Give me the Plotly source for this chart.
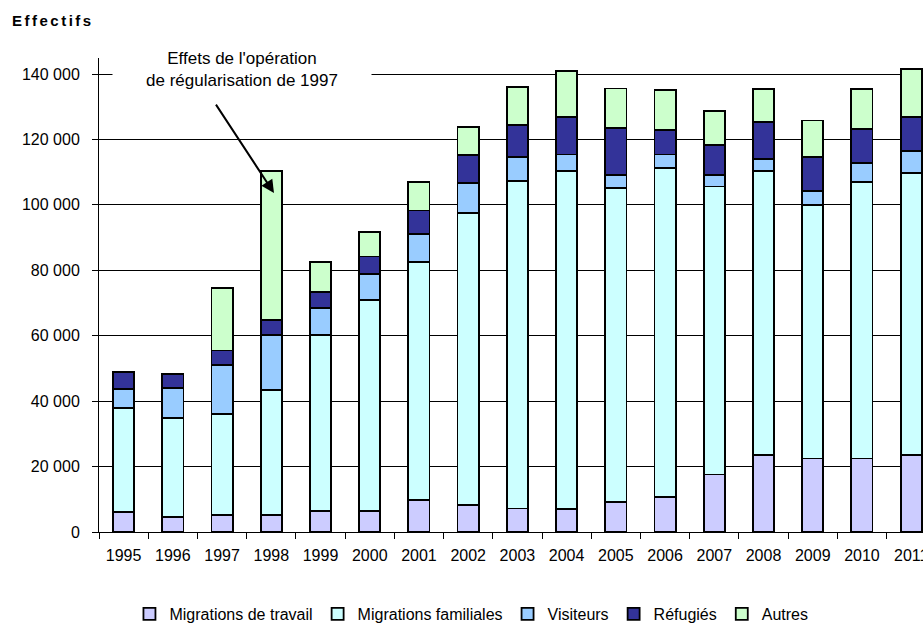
import plotly.graph_objects as go

# Admissions by category, 1995-2011
years = [str(y) for y in range(1995, 2012)]
travail = [6000, 4700, 5200, 5200, 6500, 6500, 9700, 8300, 7200, 7100, 9100, 10800, 17600, 23600, 22500, 22500, 23600]
familiales = [31800, 30100, 30800, 38100, 53800, 64400, 72800, 89300, 100100, 103300, 96000, 100400, 88000, 86800, 77500, 84400, 86100]
visiteurs = [6000, 9100, 15100, 17000, 8200, 7900, 8600, 9000, 7300, 5000, 4100, 4200, 3500, 3700, 4300, 6000, 6800]
refugies = [5200, 4400, 4400, 4500, 4800, 5400, 7200, 8700, 9900, 11400, 14200, 7500, 9200, 11200, 10300, 10400, 10400]
autres = [0, 0, 19200, 45600, 9200, 7500, 8700, 8600, 11600, 14200, 12200, 12200, 10500, 10200, 11200, 12200, 14700]

series = [
    ("Migrations de travail", travail, "#CCCCFF"),
    ("Migrations familiales", familiales, "#CCFFFF"),
    ("Visiteurs", visiteurs, "#99CCFF"),
    ("Réfugiés", refugies, "#333399"),
    ("Autres", autres, "#CCFFCC"),
]

FONT = "Liberation Sans, Arial, sans-serif"

fig = go.Figure()
for name, vals, color in series:
    fig.add_trace(go.Bar(
        x=years, y=vals, name=name,
        marker=dict(color=color, line=dict(color="black", width=1.8)),
    ))

fig.update_layout(
    width=923, height=624,
    margin=dict(l=99, r=0, t=58, b=92, autoexpand=False),
    barmode="stack", bargap=0.57,
    paper_bgcolor="white", plot_bgcolor="white",
    separators=", ",
    font=dict(family=FONT, size=16, color="black"),
    showlegend=True,
    legend=dict(
        orientation="h", x=0.452, xanchor="center", y=-0.173, yanchor="middle",
        font=dict(size=16, color="black"), itemwidth=30, traceorder="normal",
        bgcolor="rgba(0,0,0,0)",
    ),
)

fig.update_xaxes(
    type="category", range=[-0.5, 16.24], automargin=False,
    showline=True, linecolor="black", linewidth=1,
    ticks="outside", ticklen=6, tickcolor="black", tickson="boundaries",
    ticklabelstandoff=9,
    tickfont=dict(size=16, family=FONT, color="black"),
    showgrid=False, zeroline=False,
)
fig.update_yaxes(
    range=[0, 144900], automargin=False,
    tickvals=[0, 20000, 40000, 60000, 80000, 100000, 120000, 140000],
    tickformat=",d",
    showline=True, linecolor="black", linewidth=1,
    ticks="outside", ticklen=6, tickcolor="black",
    ticklabelstandoff=9,
    tickfont=dict(size=16, family=FONT, color="black"),
    showgrid=True, gridcolor="black", gridwidth=1, zeroline=False,
)

# Axis title in the top-left corner
fig.add_annotation(
    xref="paper", yref="paper", x=-0.108, y=1.079, xanchor="left", yanchor="middle",
    text='<b><span style="letter-spacing:2.5px">Effectifs</span></b>',
    showarrow=False, font=dict(size=15, family=FONT, color="black"),
)

# Callout about the 1997 regularisation
fig.add_annotation(
    xref="x", yref="y", x=2.40, y=141500,
    text="Effets de l'opération<br>de régularisation de 1997",
    showarrow=False, bgcolor="white", width=250, borderpad=4, align="center",
    font=dict(size=17, family=FONT, color="black"),
)
fig.add_annotation(
    xref="x", yref="y", x=3.055, y=103600, axref="pixel", ayref="pixel",
    ax=-59, ay=-90, text="", showarrow=True,
    arrowhead=2, arrowsize=1.3, arrowwidth=2, arrowcolor="black",
)

fig.write_html("out.html")
